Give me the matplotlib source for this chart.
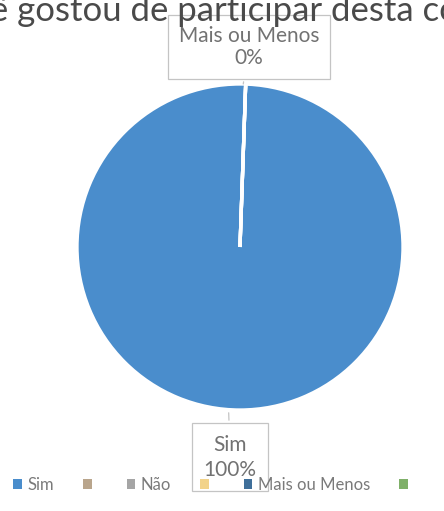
import matplotlib
matplotlib.use("Agg")
import matplotlib.pyplot as plt
from matplotlib.patches import Patch

# data
labels = ["Sim", "", "Não", "", "Mais ou Menos", ""]
values = [100, 0, 0, 0, 0, 0]
colors = ["#4A8DCC", "#B9A58C", "#A5A5A5", "#F2D38A", "#3F6F9A", "#7FB069"]
title_pre = "Você gostou de "
title = "Você gostou de participar desta competição?"

plt.rcParams['font.family'] = ['Lato', 'DejaVu Sans']

fig = plt.figure(figsize=(4.44, 5.11), dpi=100)

# pie axes: centre ~ (240, 247) px, radius ~ 163 px
ax = fig.add_axes([77 / 444, (511 - 410) / 511, 326 / 444, 326 / 511])
wedges, _ = ax.pie(values, colors=colors, startangle=88, counterclock=False,
                   wedgeprops=dict(edgecolor="white", linewidth=2.4))
ax.set_xlim(-1, 1)
ax.set_ylim(-1, 1)
ax.set_aspect("auto")
ax.axis("off")

# data labels with leader lines
box = dict(boxstyle="square,pad=0.5", fc="white", ec="#C4C4C4", lw=0.9)
ax.annotate("Mais ou Menos\n0%", xy=(0.02, 1.0), xytext=(0.055, 1.227),
            ha="center", va="center", fontsize=15, color="#727272",
            linespacing=1.15, bbox=box, annotation_clip=False,
            arrowprops=dict(arrowstyle="-", color="#C4C4C4", lw=0.9))
ax.annotate("Sim\n100%", xy=(-0.07, -1.0), xytext=(-0.06, -1.29),
            ha="center", va="center", fontsize=15, color="#727272",
            linespacing=1.3, bbox=dict(box, boxstyle="square,pad=0.55"),
            annotation_clip=False,
            arrowprops=dict(arrowstyle="-", color="#C4C4C4", lw=0.9))

# cropped title at the very top, placed so that "participar" starts near x=175 px
fsize = 25
fig.canvas.draw()
r = fig.canvas.get_renderer()
tmp = fig.text(0, 0, title_pre, fontsize=fsize)
pre_w = tmp.get_window_extent(r).width
tmp.remove()
fig.text((177 - pre_w) / 444, 1 - 21 / 511, title, ha="left", va="baseline",
         fontsize=fsize, color="#4A4A4A")

# legend row
handles = [Patch(facecolor=c, edgecolor="none") for c in colors]
fig.legend(handles, labels, loc="center left", bbox_to_anchor=(0.03, 26 / 511),
           ncol=6, frameon=False, fontsize=12, labelcolor="#7A7A7A",
           handlelength=0.5, handleheight=0.5, handletextpad=0.35,
           columnspacing=1.75, borderpad=0, borderaxespad=0)

fig.savefig("out.png", dpi=100)
